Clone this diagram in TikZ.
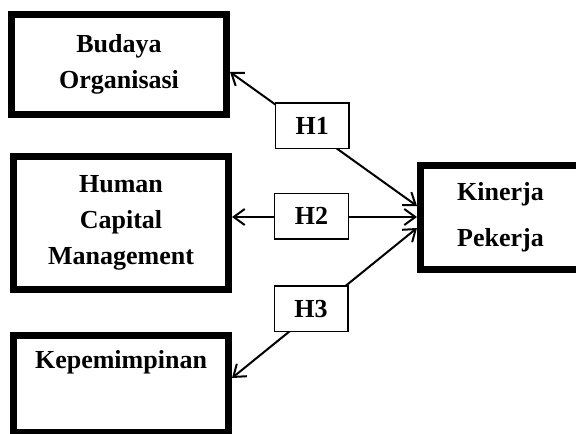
\documentclass[tikz,border=0pt]{standalone}
\usepackage{fontspec}
\setmainfont{Liberation Serif}
\usetikzlibrary{arrows.meta}
\begin{document}
\begin{tikzpicture}[x=0.5pt,y=-0.5pt,>={Straight Barb[length=5.5pt,width=8pt]},
    varbox/.style={draw,line width=3.5pt,minimum width=107.5pt,align=center,font=\bfseries\fontsize{13}{18}\selectfont},
    hbox/.style={draw,fill=white,line width=0.7pt,minimum width=36.8pt,minimum height=22.8pt,font=\bfseries\fontsize{13}{15}\selectfont},
    link/.style={<->,line width=1pt}]
\useasboundingbox (0,0) rectangle (576,433);
% variabel
\node[varbox,minimum height=50pt] (budaya) at (119,64.5) {Budaya\\Organisasi};
\node[varbox,minimum height=66.5pt] (hcm) at (121,223) {Human\\Capital\\Management};
\node[varbox,minimum height=48.5pt] (kep) at (121,384) {};
\node[font=\bfseries\fontsize{13}{18}\selectfont] (keptxt) at ([yshift=-15pt]kep.north) {Kepemimpinan};
\node[varbox,minimum width=80pt,minimum height=52pt,font=\bfseries\fontsize{13}{23}\selectfont] (kinerja) at (500.5,217.5) {Kinerja\\Pekerja};
% hipotesis
\draw[link]([yshift=-3.75pt]budaya.east)--node[hbox,pos=.44,yshift=2.6pt](h1){H1}([yshift=5.75pt]kinerja.west);
\draw[link]([yshift=3pt]hcm.east)--node[hbox,pos=.43,yshift=0.5pt](h2){H2}([yshift=0.25pt]kinerja.west);
\draw[link]([yshift=3pt]kep.east)--node[hbox,pos=.427,yshift=2.5pt](h3){H3}([yshift=-5.25pt]kinerja.west);
\end{tikzpicture}
\end{document}
